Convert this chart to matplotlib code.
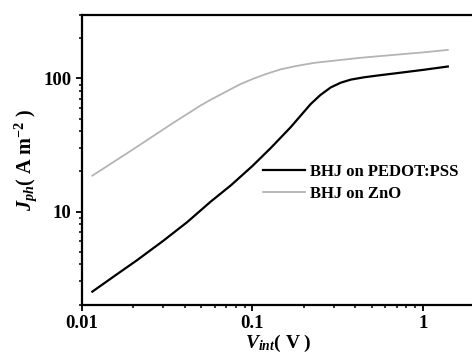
import matplotlib
matplotlib.use("Agg")
import matplotlib.pyplot as plt
from matplotlib.ticker import LogLocator, NullFormatter

plt.rcParams['mathtext.fontset'] = 'custom'
plt.rcParams['mathtext.rm'] = 'Liberation Serif:bold'
plt.rcParams['mathtext.it'] = 'Liberation Serif:italic:bold'
plt.rcParams['mathtext.bf'] = 'Liberation Serif:bold'
plt.rcParams['font.family'] = ['Liberation Serif', 'DejaVu Serif']
plt.rcParams['font.weight'] = 'bold'

# Data
v_pedot = [0.0115, 0.016, 0.021, 0.03, 0.0413, 0.0566, 0.075, 0.1, 0.128, 0.1675,
           0.219, 0.25, 0.288, 0.33, 0.377, 0.45, 0.55, 0.678, 1.0, 1.4]
j_pedot = [2.5, 3.37, 4.3, 6.03, 8.3, 11.8, 15.8, 22, 30, 43,
           64, 75, 85.7, 93, 98, 102, 105.5, 109, 116, 123]
v_zno = [0.0115, 0.0191, 0.0344, 0.0494, 0.0566, 0.085, 0.1, 0.12, 0.146, 0.18, 0.23,
         0.3, 0.43, 0.7, 1.0, 1.4]
j_zno = [18.6, 28.3, 46.5, 62.4, 69, 90.7, 99, 108, 117, 124, 131,
         136, 143, 151, 157, 164]
labels = ['BHJ on PEDOT:PSS', 'BHJ on ZnO']
xticks = [0.01, 0.1, 1]
xticklabels = ['0.01', '0.1', '1']
yticks = [10, 100]
yticklabels = ['10', '100']

fig = plt.figure(figsize=(4.72, 3.57), dpi=100)
ax = fig.add_axes([0.1737, 0.147, 0.831, 0.811])
ax.plot(v_pedot, j_pedot, color='black', lw=1.6, label=labels[0], solid_joinstyle='round')
ax.plot(v_zno, j_zno, color='#b4b4b4', lw=1.3, label=labels[1], solid_joinstyle='round')
ax.set_xscale('log')
ax.set_yscale('log')
ax.set_xlim(0.01, 2)
ax.set_ylim(2, 300)

ax.set_xticks(xticks)
ax.set_xticklabels(xticklabels)
ax.set_yticks(yticks)
ax.set_yticklabels(yticklabels)
ax.xaxis.set_minor_locator(LogLocator(base=10, subs=range(2, 10)))
ax.yaxis.set_minor_locator(LogLocator(base=10, subs=range(2, 10)))
ax.xaxis.set_minor_formatter(NullFormatter())
ax.yaxis.set_minor_formatter(NullFormatter())

ax.tick_params(which='major', direction='out', length=4.5, width=1.3, labelsize=13.5, pad=3)
ax.tick_params(which='minor', direction='out', length=2.5, width=1.1)
ax.tick_params(top=False, right=False, which='both')
for lab in ax.get_xticklabels() + ax.get_yticklabels():
    lab.set_fontweight('bold')

for s in ['left', 'bottom', 'top']:
    ax.spines[s].set_linewidth(1.6)
ax.spines['right'].set_visible(False)

ax.set_xlabel(r'$V_{int}$( V )', fontsize=14, fontweight='bold', labelpad=1)
ax.set_ylabel(r'$J_{ph}$( A m$^{-2}$ )', fontsize=14.5, fontweight='bold', labelpad=3)

leg = ax.legend(loc='upper left', bbox_to_anchor=(0.462, 0.485), frameon=False,
                prop={'family': 'Liberation Serif', 'weight': 'bold', 'size': 12},
                handlelength=2.5, handletextpad=0.3, labelspacing=0.35, borderaxespad=0,
                borderpad=0)

fig.savefig('out.png', dpi=100)
